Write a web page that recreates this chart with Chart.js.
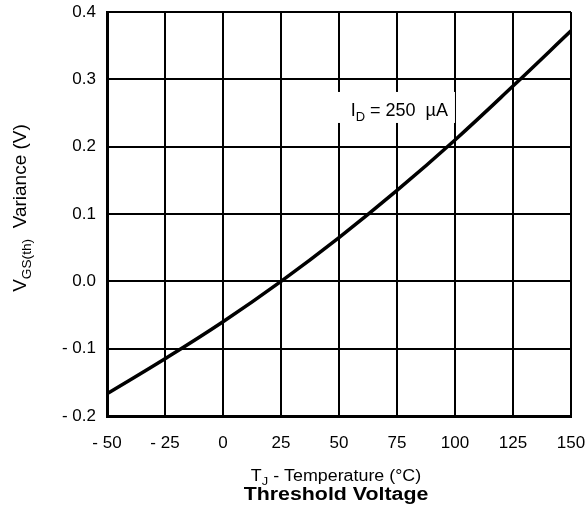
<!DOCTYPE html>
<html>
<head>
<meta charset="utf-8">
<script src="https://cdn.jsdelivr.net/npm/chart.js@4/dist/chart.umd.min.js"></script>
<style>
  html, body { margin: 0; padding: 0; background: #fff; }
  #wrap { width: 587px; height: 520px; }
</style>
</head>
<body>
<div id="wrap"><canvas id="c" width="587" height="520"></canvas></div>
<script>
// junction temperature (°C) and threshold voltage variance (V)
const temps = [-50, -25, 0, 25, 50, 75, 100, 125, 150];
const variance = [-0.167, -0.115, -0.06, 0.0, 0.065, 0.135, 0.21, 0.29, 0.372];

const xTicks = [-50, -25, 0, 25, 50, 75, 100, 125, 150];
const yTicks = [-0.2, -0.1, 0.0, 0.1, 0.2, 0.3, 0.4];

// annotation placed in data units
const noteAt = { x: 76, y: 0.256 };

const FONT = "'Liberation Sans', Arial, Helvetica, sans-serif";

function fmtNeg(s, v) {
  return v < 0 ? '- ' + s.replace('-', '') : s;
}

// text runs are [text, isSub] pairs
function partsWidth(ctx, parts, size, bold) {
  let w = 0;
  parts.forEach(p => {
    ctx.font = (bold ? 'bold ' : '') + (p[1] ? size * 0.72 : size) + 'px ' + FONT;
    w += ctx.measureText(p[0]).width;
  });
  return w;
}
function drawParts(ctx, parts, x, y, size, bold) {
  parts.forEach(p => {
    ctx.font = (bold ? 'bold ' : '') + (p[1] ? size * 0.72 : size) + 'px ' + FONT;
    ctx.fillText(p[0], x, p[1] ? y + size * 0.28 : y);
    x += ctx.measureText(p[0]).width;
  });
}

const textPlugin = {
  id: 'texts',
  beforeDatasetsDraw(chart) {
    const ctx = chart.ctx;
    const xs = chart.scales.x, ys = chart.scales.y;
    const cx = xs.getPixelForValue(noteAt.x);
    const cy = ys.getPixelForValue(noteAt.y);
    const parts = [['I', false], ['D', true], [' = 250  \u00b5A', false]];
    ctx.save();
    const w = partsWidth(ctx, parts, 18, false);
    ctx.fillStyle = '#fff';
    ctx.fillRect(cx - w / 2 - 15, cy - 17, w + 22, 31);
    ctx.fillStyle = '#000';
    ctx.textBaseline = 'alphabetic';
    drawParts(ctx, parts, cx - w / 2, cy + 7, 18, false);
    ctx.restore();
  },
  afterDraw(chart) {
    const ctx = chart.ctx;
    const a = chart.chartArea;
    ctx.save();
    ctx.fillStyle = '#000';
    ctx.textBaseline = 'alphabetic';

    // y axis title, rotated
    const yParts = [['V', false], ['GS(th)', true], ['  Variance (V)', false]];
    const yw = partsWidth(ctx, yParts, 19, false);
    ctx.save();
    ctx.translate(26, (a.top + a.bottom) / 2 - 6);
    ctx.rotate(-Math.PI / 2);
    drawParts(ctx, yParts, -yw / 2, 0, 19, false);
    ctx.restore();

    // x axis title
    const xParts = [['T', false], ['J', true], [' - Temperature (\u00b0C)', false]];
    const xc = (a.left + a.right) / 2 - 3;
    ctx.save();
    ctx.translate(xc, 481);
    ctx.scale(1.13, 1);
    const xw = partsWidth(ctx, xParts, 15.8, false);
    drawParts(ctx, xParts, -xw / 2, 0, 15.8, false);
    ctx.restore();

    // caption
    ctx.save();
    ctx.translate(xc, 500);
    ctx.scale(1.22, 1);
    const cParts = [['Threshold Voltage', false]];
    const cw = partsWidth(ctx, cParts, 17.5, true);
    drawParts(ctx, cParts, -cw / 2, 0, 17.5, true);
    ctx.restore();

    ctx.restore();
  }
};

new Chart(document.getElementById('c'), {
  type: 'line',
  data: {
    datasets: [{
      data: temps.map((t, i) => ({ x: t, y: variance[i] })),
      borderColor: '#000',
      borderWidth: 3.5,
      pointRadius: 0,
      fill: false,
      tension: 0.4
    }]
  },
  options: {
    responsive: false,
    animation: false,
    devicePixelRatio: 1,
    layout: { padding: { top: 12, right: 16, left: 0, bottom: 0 } },
    plugins: { legend: { display: false }, tooltip: { enabled: false } },
    scales: {
      x: {
        type: 'linear',
        min: xTicks[0],
        max: xTicks[xTicks.length - 1],
        afterBuildTicks: s => { s.ticks = xTicks.map(v => ({ value: v })); },
        afterFit: s => { s.height = 104; s.paddingLeft = 0; s.paddingRight = 0; },
        grid: { color: '#000', lineWidth: 2, drawTicks: false },
        border: { color: '#000', width: 3 },
        ticks: {
          color: '#000',
          padding: 17,
          maxRotation: 0,
          font: { family: FONT, size: 17 },
          callback: v => fmtNeg(String(v), v)
        }
      },
      y: {
        type: 'linear',
        min: yTicks[0],
        max: yTicks[yTicks.length - 1],
        afterBuildTicks: s => { s.ticks = yTicks.map(v => ({ value: v })); },
        afterFit: s => { s.width = 107; s.paddingTop = 0; s.paddingBottom = 0; },
        grid: { color: '#000', lineWidth: 2, drawTicks: false },
        border: { color: '#000', width: 3 },
        ticks: {
          color: '#000',
          padding: 11,
          font: { family: FONT, size: 17 },
          callback: v => fmtNeg(v.toFixed(1), v)
        }
      }
    }
  },
  plugins: [textPlugin]
});
</script>
</body>
</html>
